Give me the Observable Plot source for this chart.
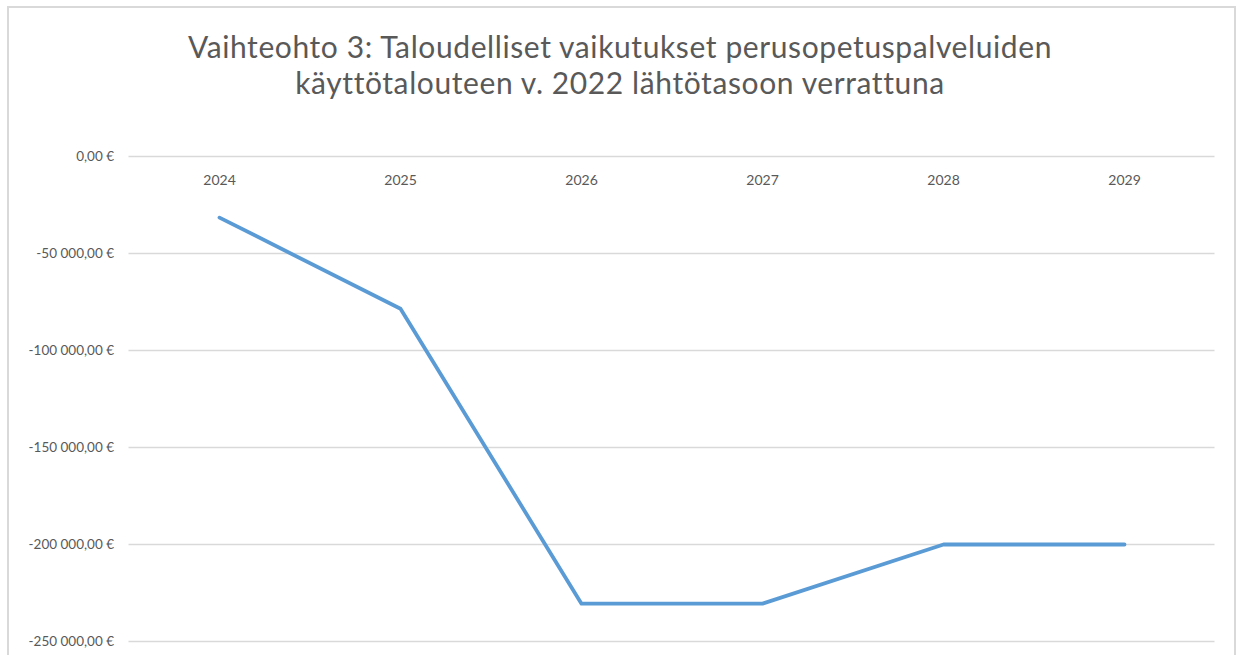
<!DOCTYPE html>
<html>
<head>
<meta charset="utf-8">
<script src="https://cdn.jsdelivr.net/npm/d3@7"></script>
<script src="https://cdn.jsdelivr.net/npm/@observablehq/plot@0.6"></script>
<style>
  html, body { margin: 0; padding: 0; background: #fff; overflow: hidden; }
  body { width: 1240px; height: 655px; position: relative; font-family: Lato, "Open Sans", sans-serif; }
  #frame { position: absolute; left: 7px; top: 6px; width: 1229px; height: 700px; border: 2px solid #d9d9d9; box-sizing: border-box; }
  #title { position: absolute; left: 0; top: 28px; width: 1240px; text-align: center; font-size: 30px; line-height: 36px; color: #595959; font-weight: 400; letter-spacing: 0.6px; }
  #chart { position: absolute; left: 0; top: 101px; }
</style>
</head>
<body>
<div id="frame"></div>
<div id="title">Vaihteohto 3: Taloudelliset vaikutukset perusopetuspalveluiden<br>käyttötalouteen v. 2022 lähtötasoon verrattuna</div>
<div id="chart"></div>
<script>
const years = ["2024", "2025", "2026", "2027", "2028", "2029"];
const values = [-31500, -78500, -230500, -230500, -200000, -200000];
const yTicks = [0, -50000, -100000, -150000, -200000, -250000];

const data = years.map((y, i) => ({year: y, value: values[i]}));

function fmt(v) {
  const s = Math.abs(v).toFixed(0).replace(/\B(?=(\d{3})+(?!\d))/g, "\u00a0");
  return (v < 0 ? "-" : "") + s + ",00\u00a0€";
}

const chart = Plot.plot({
  width: 1240,
  height: 554,
  marginTop: 55,
  marginBottom: 14,
  marginLeft: 128.5,
  marginRight: 25.5,
  style: {fontFamily: "Lato, 'Open Sans', sans-serif", fontSize: "13.5px", color: "#595959", background: "transparent"},
  x: {type: "point", domain: years, padding: 0.5, axis: null},
  y: {domain: [-250000, 0], axis: null},
  marks: [
    Plot.ruleY(yTicks, {stroke: "#d9d9d9", strokeWidth: 1.3}),
    Plot.axisY(yTicks, {tickSize: 0, tickPadding: 15, tickFormat: fmt, fill: "#595959", fontSize: 13.5, label: null}),
    Plot.text(years, {x: d => d, y: () => 0, dy: 24, fill: "#595959", fontSize: 14}),
    Plot.line(data, {x: "year", y: "value", stroke: "#5b9bd5", strokeWidth: 3.8, strokeLinecap: "round", strokeLinejoin: "round"})
  ]
});
document.getElementById("chart").appendChild(chart);
</script>
</body>
</html>
